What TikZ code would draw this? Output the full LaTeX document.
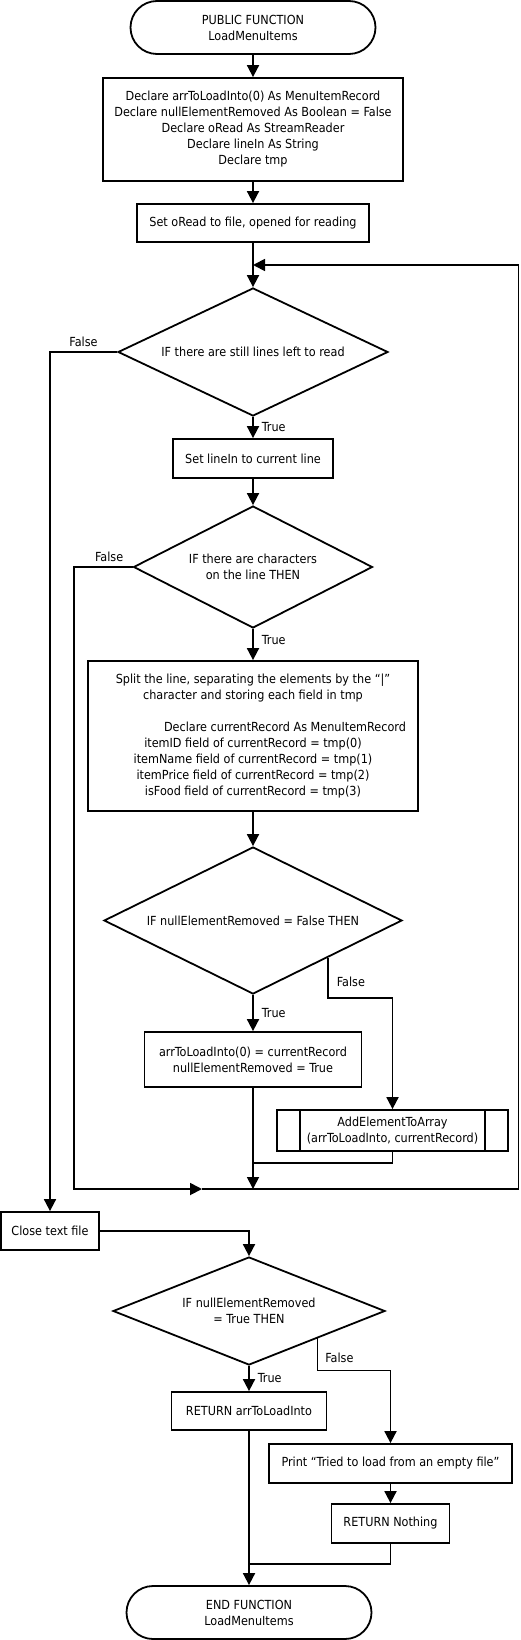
\documentclass[tikz,border=0pt]{standalone}
\usepackage{fontspec}
\setmainfont{DejaVu Sans Condensed}
\usepackage{tikz}
\usetikzlibrary{
  shapes.geometric, shapes.misc,
  arrows.meta, positioning, calc
}
\newcommand{\flowfont}{\fontsize{12.5}{16}\selectfont}
\tikzset{
  terminal/.style={
    rounded rectangle, minimum width=245pt, minimum height=53pt,
    draw, line width=1.8pt, align=center, inner sep=0pt, font=\flowfont
  },
  process/.style={
    rectangle, draw, line width=1.8pt, align=center, inner sep=0pt,
    font=\flowfont
  },
  decision/.style={
    diamond, draw, line width=1.8pt, align=center, inner sep=0pt,
    font=\flowfont
  },
  link/.style={line width=1.8pt},
  arrow/.style={-{Triangle[length=12pt, width=12pt]}, line width=1.8pt},
  lbl/.style={inner sep=4pt, font=\flowfont}
}

\begin{document}
\begin{tikzpicture}[x=1pt, y=-1pt]
    % LoadMenuItems flowchart
    \useasboundingbox (0,0) rectangle (520,1640);
    \node[terminal] (start) at (253,27.5) {PUBLIC FUNCTION\\LoadMenuItems};
    \node[process, minimum width=300pt, minimum height=103pt] (decl) at (253,129.5)
      {Declare arrToLoadInto(0) As MenuItemRecord\\
       Declare nullElementRemoved As Boolean = False\\
       Declare oRead As StreamReader\\
       Declare lineIn As String\\
       Declare tmp};
    \node[process, minimum width=232pt, minimum height=38pt] (open) at (253,223)
      {Set oRead to file, opened for reading};
    \node[decision, aspect=2.11, minimum width=270pt, minimum height=128pt] (ifmore) at (253,352)
      {IF there are still lines left to read};
    \node[process, minimum width=160pt, minimum height=39pt] (setline) at (253,458.5)
      {Set lineIn to current line};
    \node[decision, aspect=1.96, minimum width=239pt, minimum height=122pt] (ifchars) at (253,567)
      {IF there are characters\\on the line THEN};
    \node[process, minimum width=330pt, minimum height=150pt] (split) at (253,736)
      {Split the line, separating the elements by the “|”\\
       character and storing each field in tmp\\[16pt]
       \hspace*{64pt}Declare currentRecord As MenuItemRecord\\
       itemID field of currentRecord = tmp(0)\\
       itemName field of currentRecord = tmp(1)\\
       itemPrice field of currentRecord = tmp(2)\\
       isFood field of currentRecord = tmp(3)};
    \node[decision, aspect=2.03, minimum width=298pt, minimum height=147pt] (ifnull) at (253,920.5)
      {IF nullElementRemoved = False THEN};
    \node[process, minimum width=217pt, minimum height=55pt] (setfirst) at (253,1059.5)
      {arrToLoadInto(0) = currentRecord\\nullElementRemoved = True};
    \node[process, minimum width=231pt, minimum height=41pt] (addel) at (392.5,1130.5)
      {AddElementToArray\\(arrToLoadInto, currentRecord)};
    \node[process, minimum width=98pt, minimum height=38pt] (close) at (50,1231)
      {Close text file};
    \node[decision, aspect=2.52, minimum width=272pt, minimum height=108pt] (ifok) at (249,1311)
      {IF nullElementRemoved\\= True THEN};
    \node[process, minimum width=155pt, minimum height=38pt] (retarr) at (249,1411)
      {RETURN arrToLoadInto};
    \node[process, minimum width=243pt, minimum height=39pt] (print) at (390.5,1463.5)
      {Print “Tried to load from an empty file”};
    \node[process, minimum width=118pt, minimum height=39pt] (retnull) at (390.5,1523.5)
      {RETURN Nothing};
    \node[terminal] (finish) at (249,1612.5) {END FUNCTION\\LoadMenuItems};

    \draw[link] ([xshift=24pt]addel.north west) -- ([xshift=24pt]addel.south west);
    \draw[link] ([xshift=-24pt]addel.north east) -- ([xshift=-24pt]addel.south east);

    \coordinate (reenter) at (253,265);
    \coordinate (lowleft) at (74,1189);
    \coordinate (midjoin) at (202,1189);
    \coordinate (lowright) at (518.5,1189);
    \coordinate (subjoin) at (253,1163);
    \coordinate (endjoin) at (249,1564);

    \draw[arrow] (start) -- (decl);
    \draw[arrow] (decl) -- (open);
    \draw[arrow] (open) -- (ifmore);
    \draw[arrow] (ifmore) -- node[lbl, right, xshift=4pt] {True} (setline);
    \draw[arrow] (setline) -- (ifchars);
    \draw[arrow] (ifchars) -- node[lbl, right, pos=0.35, xshift=4pt] {True} (split);
    \draw[arrow] (split) -- (ifnull);
    \draw[arrow] (ifnull) -- node[lbl, right, xshift=4pt] {True} (setfirst);
    \draw[arrow] (ifnull.south east) -- node[lbl, right, pos=0.6, xshift=4pt] {False}
      ++(0,40) -| (addel);
    \draw[arrow] (setfirst) -- (setfirst |- lowleft);
    \draw[link] (addel.south) |- (subjoin);

    \draw[arrow] (ifchars.west) -| node[lbl, above, pos=0.2] {False} (lowleft) -- (midjoin);
    \draw[arrow] (midjoin) -- (lowright) |- (reenter);

    \draw[arrow] (ifmore.west) -| node[lbl, above, pos=0.25] {False} (close);
    \draw[arrow] (close) -| (ifok);
    \draw[arrow] (ifok) -- node[lbl, right, xshift=4pt] {True} (retarr);
    \draw[arrow] (ifok.south east) -- node[lbl, right, pos=0.6, xshift=3pt] {False}
      ++(0,32) -| (print);
    \draw[arrow] (print) -- (retnull);
    \draw[arrow] (retarr) -- (finish);
    \draw[link] (retnull.south) |- (endjoin);
  \end{tikzpicture}
\end{document}
